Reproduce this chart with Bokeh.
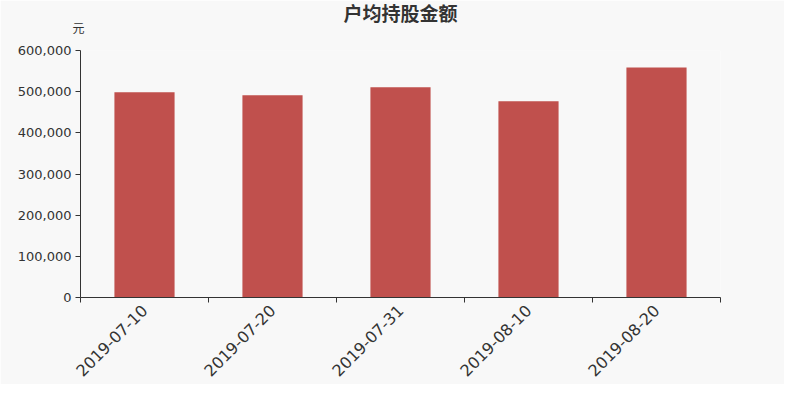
import math
from bokeh.plotting import figure
from bokeh.models import FixedTicker, NumeralTickFormatter, Title, Range1d
from bokeh.embed import file_html
from bokeh.resources import INLINE

categories = ["2019-07-10", "2019-07-20", "2019-07-31", "2019-08-10", "2019-08-20"]
values = [498500, 491000, 510500, 476500, 559000]
y_ticks = [0, 100000, 200000, 300000, 400000, 500000, 600000]
title_text = "户均持股金额"
unit_text = "元"

BG = "#f8f8f8"
BAR = "#c0504d"
AX = "#333333"

n = len(categories)
xs = [i + 0.5 for i in range(n)]

W, H = 784, 384
L, R, T, B = 80, 64, 50, 84
p = figure(width=W, height=H, output_backend="svg", toolbar_location=None,
           x_range=Range1d(0, n), y_range=Range1d(0, 600000),
           min_border_left=L, min_border_right=R, min_border_top=T, min_border_bottom=B)
p.background_fill_color = BG
p.border_fill_color = BG
p.outline_line_color = None
p.grid.visible = False

p.vbar(x=xs, top=values, width=0.47, bottom=0, fill_color=BAR, line_color=None)

xt = FixedTicker(ticks=xs, minor_ticks=list(range(n + 1)))
p.xaxis.ticker = xt
p.xaxis.major_label_overrides = {x: c for x, c in zip(xs, categories)}
p.xaxis.major_tick_line_color = None
p.xaxis.minor_tick_out = 5
p.xaxis.minor_tick_in = 0
p.xaxis.minor_tick_line_color = AX
p.xaxis.major_label_orientation = math.pi / 4
p.xaxis.major_label_text_font = "DejaVu Sans"
p.xaxis.major_label_text_font_size = "16px"
p.xaxis.major_label_text_color = AX
p.xaxis.major_label_standoff = 4
p.xaxis.axis_line_color = AX

p.yaxis.ticker = FixedTicker(ticks=y_ticks, minor_ticks=[])
p.yaxis.formatter = NumeralTickFormatter(format="0,0")
p.yaxis.major_tick_out = 5
p.yaxis.major_tick_in = 0
p.yaxis.major_tick_line_color = AX
p.yaxis.axis_line_color = AX
p.yaxis.major_label_text_font = "DejaVu Sans"
p.yaxis.major_label_text_font_size = "13px"
p.yaxis.major_label_text_color = AX
p.yaxis.major_label_standoff = 4

# spacer nearest the frame, then the unit label, then the main title (outermost)
spacer = Title(text=" ", align="left", standoff=0, text_font="Noto Sans CJK SC",
               text_font_size="12px", text_color=BG)
p.add_layout(spacer, "above")

unit = Title(text=unit_text, align="left", offset=-8, standoff=-8,
             text_font="Noto Sans CJK SC", text_font_style="normal",
             text_font_size="12px", text_color=AX)
p.add_layout(unit, "above")

p.title.text = title_text
p.title.align = "center"
p.title.standoff = -10
p.title.text_font = "Noto Sans CJK SC"
p.title.text_font_style = "bold"
p.title.text_font_size = "19px"
p.title.text_color = AX

open("out.html", "w").write(file_html(p, INLINE))
